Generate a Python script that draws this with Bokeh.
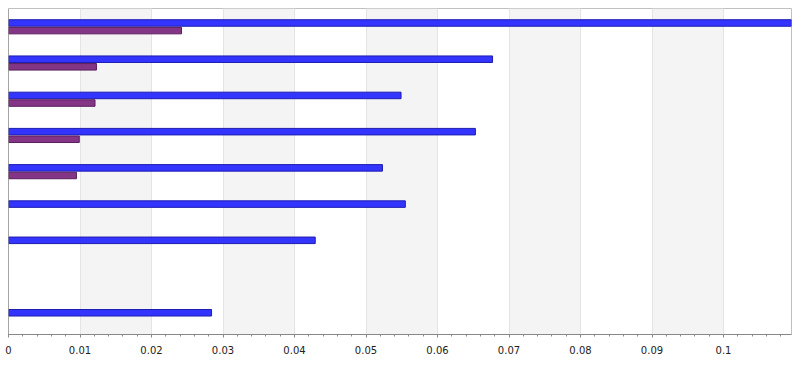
from bokeh.plotting import figure
from bokeh.models import (FactorRange, Range1d, FixedTicker, Legend, LegendItem,
                          Span, ColumnDataSource, CDSView, BooleanFilter)
from bokeh.transform import dodge
from bokeh.embed import file_html
from bokeh.resources import INLINE

# ---- data ----
categories = ["Input 1", "Input 2", "Input 3", "Input 4", "Input 5",
              "Input 6", "Input 7", "Input 8", "Input 9"]
partial_derivative = [0.1095, 0.0677, 0.0549, 0.0653, 0.0523, 0.0555, 0.0429, 0.0, 0.0284]
maximum_impact = [0.0242, 0.0123, 0.0121, 0.0099, 0.0095, 0.0, 0.0, 0.0, 0.0]
tick_values = [0, 0.01, 0.02, 0.03, 0.04, 0.05, 0.06, 0.07, 0.08, 0.09, 0.1]
tick_labels = ["0", "0.01", "0.02", "0.03", "0.04", "0.05", "0.06", "0.07", "0.08", "0.09", "0.1"]
minor_values = [round(i * 0.002, 3) for i in range(0, 55)]

source = ColumnDataSource(dict(cat=categories, pd=partial_derivative, mi=maximum_impact))
view_pd = CDSView(filter=BooleanFilter([v > 0 for v in partial_derivative]))
view_mi = CDSView(filter=BooleanFilter([v > 0 for v in maximum_impact]))

p = figure(width=798, height=390, frame_width=783, frame_height=326,
           y_range=FactorRange(factors=list(reversed(categories))),
           x_range=Range1d(0, 0.10951),
           output_backend="svg", toolbar_location=None, y_axis_location=None,
           min_border_left=8, min_border_right=7, min_border_top=8, min_border_bottom=0)

p.outline_line_color = "#c0c0c0"
p.ygrid.grid_line_color = None
p.xgrid.grid_line_color = "#e4e4e4"
p.xgrid.band_fill_color = "#f4f4f4"
p.xgrid.band_fill_alpha = 1.0

r1 = p.hbar(y=dodge("cat", 0.1, range=p.y_range), left=0, right="pd", height=0.18,
            source=source, view=view_pd,
            fill_color="#3434ff", line_color="#1d1db0", line_width=1)
r2 = p.hbar(y=dodge("cat", -0.11, range=p.y_range), left=0, right="mi", height=0.18,
            source=source, view=view_mi,
            fill_color="#843586", line_color="#5a1e5c", line_width=1)

p.add_layout(Span(location=0, dimension="height", line_color="#888888", line_width=1))

ax = p.xaxis[0]
ax.ticker = FixedTicker(ticks=tick_values, minor_ticks=minor_values)
ax.major_label_overrides = dict(zip(tick_values, tick_labels))
ax.axis_line_color = "#888888"
ax.major_tick_line_color = "#888888"
ax.minor_tick_line_color = "#888888"
ax.major_tick_in = 0
ax.major_tick_out = 3
ax.minor_tick_in = 0
ax.minor_tick_out = 2
ax.major_label_standoff = 8
ax.major_label_text_font = "DejaVu Sans"
ax.major_label_text_font_size = "10px"
ax.major_label_text_color = "#222222"

legend = Legend(items=[LegendItem(label="Partial Derivative", renderers=[r1]),
                       LegendItem(label="Maximum Impact", renderers=[r2])],
                orientation="horizontal", location=(237, 27))
legend.glyph_width = 18
legend.glyph_height = 14
legend.label_standoff = 5
legend.spacing = 6
legend.padding = 3
legend.margin = 0
legend.border_line_color = "#c0c0c0"
legend.label_text_font = "DejaVu Sans"
legend.label_text_font_size = "11.5px"
legend.label_text_color = "#222222"
legend.label_height = 14
p.add_layout(legend, "below")

open("out.html", "w").write(file_html(p, INLINE))
